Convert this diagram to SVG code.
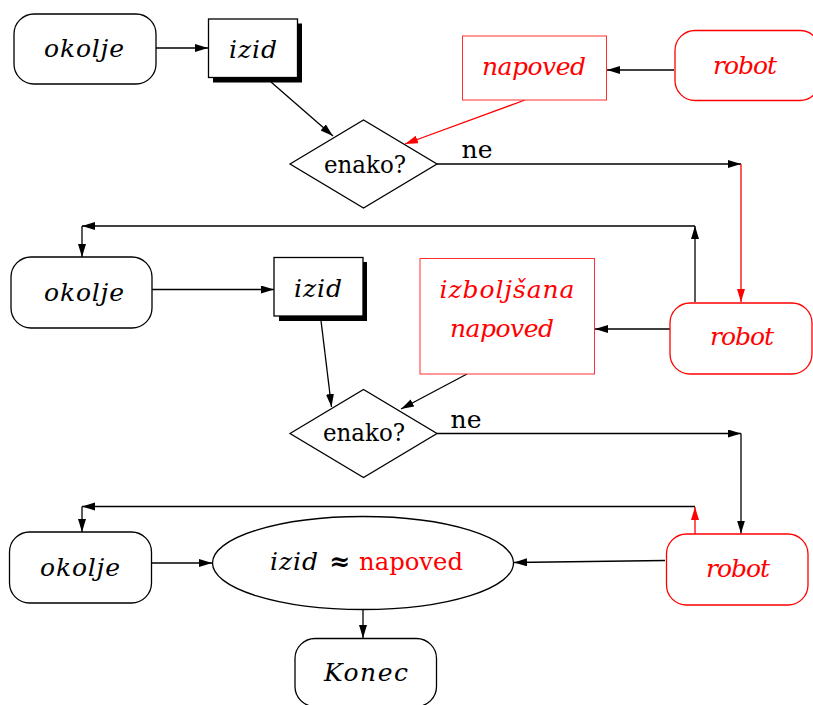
<svg xmlns="http://www.w3.org/2000/svg" width="813" height="705" viewBox="0 0 813 705">
<style>
.bk{fill:#fff;stroke:#000;stroke-width:1.3}
.rd{fill:#fff;stroke:#ff0000;stroke-width:1.3}
.rdb{fill:#fff;stroke:#ff3030;stroke-width:1}
.sh{fill:#000;stroke:none}
.t{font-family:'DejaVu Serif','Liberation Serif',serif;font-size:25px;text-anchor:middle}
.it{font-style:italic}
.red{fill:#ff0000}
.ln{fill:none;stroke:#000;stroke-width:1.3}
.lr{fill:none;stroke:#ff0000;stroke-width:1.3}
</style>
<defs>
<marker id="ab" markerUnits="userSpaceOnUse" markerWidth="14" markerHeight="9" refX="13" refY="4" orient="auto"><path d="M0,0 L13,4 L0,8 z" fill="#000"/></marker>
<marker id="ar" markerUnits="userSpaceOnUse" markerWidth="14" markerHeight="9" refX="13" refY="4" orient="auto"><path d="M0,0 L13,4 L0,8 z" fill="#ff0000"/></marker>
</defs>
<rect width="813" height="705" fill="#fff"/>
<g id="connectors">
<line class="ln" x1="156" y1="48" x2="208" y2="48" marker-end="url(#ab)"/>
<line class="ln" x1="271" y1="82" x2="333" y2="136" marker-end="url(#ab)"/>
<line class="ln" x1="674" y1="70" x2="607" y2="70" marker-end="url(#ab)"/>
<line class="lr" x1="525" y1="100" x2="405" y2="144" marker-end="url(#ar)"/>
<line class="ln" x1="437" y1="164" x2="741" y2="164" marker-end="url(#ab)"/>
<line class="lr" x1="741" y1="164" x2="741" y2="302" marker-end="url(#ar)"/>
<line class="ln" x1="695" y1="302" x2="695" y2="226" marker-end="url(#ab)"/>
<line class="ln" x1="695" y1="226" x2="82" y2="226" marker-end="url(#ab)"/>
<line class="ln" x1="82" y1="226" x2="82" y2="257" marker-end="url(#ab)"/>
<line class="ln" x1="152" y1="289.5" x2="274" y2="289.5" marker-end="url(#ab)"/>
<line class="ln" x1="321" y1="320.5" x2="331.5" y2="407" marker-end="url(#ab)"/>
<line class="ln" x1="670" y1="329" x2="595" y2="329" marker-end="url(#ab)"/>
<line class="ln" x1="467" y1="374" x2="401" y2="409" marker-end="url(#ab)"/>
<line class="ln" x1="437" y1="433.5" x2="741" y2="433.5" marker-end="url(#ab)"/>
<line class="ln" x1="741" y1="433.5" x2="741" y2="533.5" marker-end="url(#ab)"/>
<line class="lr" x1="695" y1="534" x2="695" y2="507" marker-end="url(#ar)"/>
<line class="ln" x1="695" y1="506.5" x2="82" y2="506.5" marker-end="url(#ab)"/>
<line class="ln" x1="82" y1="506.5" x2="82" y2="532" marker-end="url(#ab)"/>
<line class="ln" x1="152" y1="563" x2="212" y2="563" marker-end="url(#ab)"/>
<line class="ln" x1="665" y1="560.5" x2="514" y2="562.5" marker-end="url(#ab)"/>
<line class="ln" x1="363" y1="609.5" x2="363" y2="638" marker-end="url(#ab)"/>
</g>
<g id="okolje1"><rect class="bk" x="14" y="14" width="142" height="70" rx="20"/><text class="t it" x="84" y="57" textLength="80" lengthAdjust="spacing">okolje</text></g>
<g id="izid1"><rect class="sh" x="213" y="23.5" width="89" height="59"/><rect class="bk" x="208.5" y="19" width="89" height="58.5" stroke-width="1"/><text class="t it" x="253" y="58" textLength="48" lengthAdjust="spacing">izid</text></g>
<g id="enako1"><polygon class="bk" points="290,164 363.5,120 437,164 363.5,208"/><text class="t" x="365" y="173" textLength="82" lengthAdjust="spacingAndGlyphs">enako?</text></g>
<g id="napoved1"><rect class="rdb" x="462.5" y="36" width="144" height="64"/><text class="t it red" x="534" y="75" textLength="104" lengthAdjust="spacing">napoved</text></g>
<g id="robot1"><rect class="rd" x="675" y="30.5" width="145" height="70" rx="20"/><text class="t it red" x="745" y="74" textLength="64" lengthAdjust="spacing">robot</text></g>
<text class="t" x="477" y="158">ne</text>
<g id="okolje2"><rect class="bk" x="11" y="257" width="141" height="71" rx="20"/><text class="t it" x="84" y="301" textLength="80" lengthAdjust="spacing">okolje</text></g>
<g id="izid2"><rect class="sh" x="279" y="262" width="88" height="59"/><rect class="bk" x="274" y="257.5" width="89" height="58.5" stroke-width="1"/><text class="t it" x="318" y="297" textLength="48" lengthAdjust="spacing">izid</text></g>
<g id="izboljsana"><rect class="rdb" x="420" y="258.5" width="174.5" height="115.5"/><text class="t it red" x="507" y="298" textLength="135" lengthAdjust="spacing">izboljšana</text><text class="t it red" x="502" y="337" textLength="104" lengthAdjust="spacing">napoved</text></g>
<g id="robot2"><rect class="rd" x="670" y="303" width="142" height="71" rx="20"/><text class="t it red" x="742" y="345" textLength="64" lengthAdjust="spacing">robot</text></g>
<g id="enako2"><polygon class="bk" points="290,433.5 363.5,389.5 437,433.5 363.5,477.5"/><text class="t" x="364" y="441" textLength="82" lengthAdjust="spacingAndGlyphs">enako?</text></g>
<text class="t" x="466" y="428">ne</text>
<g id="okolje3"><rect class="bk" x="9.5" y="532" width="142" height="71" rx="20"/><text class="t it" x="80" y="576" textLength="80" lengthAdjust="spacing">okolje</text></g>
<g id="ellipse"><ellipse class="bk" cx="363" cy="563" rx="150.5" ry="46.5"/><text class="t it" x="294" y="570" textLength="48" lengthAdjust="spacing">izid</text><text class="t" x="340" y="570" font-weight="bold">≈</text><text class="t red" x="411" y="570" textLength="104" lengthAdjust="spacingAndGlyphs">napoved</text></g>
<g id="robot3"><rect class="rd" x="666.5" y="534" width="141.5" height="71" rx="20"/><text class="t it red" x="738" y="577" textLength="64" lengthAdjust="spacing">robot</text></g>
<g id="konec"><rect class="bk" x="295" y="638.5" width="141.5" height="68" rx="20"/><text class="t it" x="366" y="681" textLength="84" lengthAdjust="spacing">Konec</text></g>
</svg>
